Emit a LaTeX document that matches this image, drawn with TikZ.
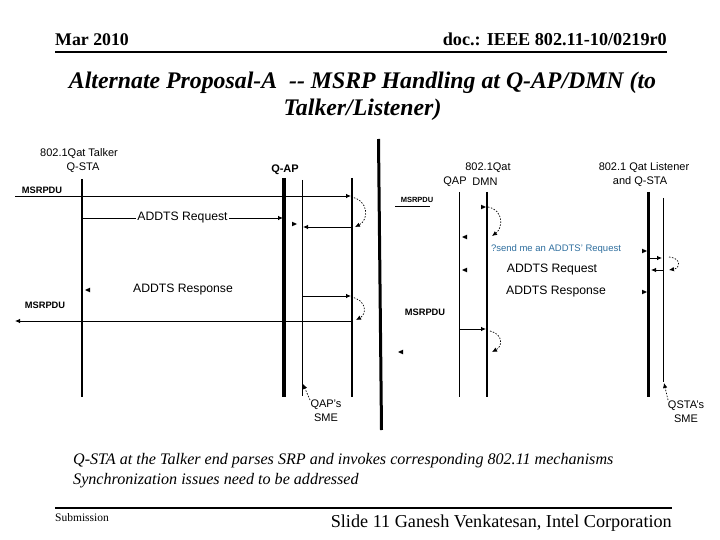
\documentclass[tikz,border=0pt]{standalone}
\usepackage{fontspec}
\setmainfont{Liberation Serif}
\setsansfont{Liberation Sans}
\usetikzlibrary{arrows.meta}
\definecolor{sendblue}{RGB}{46,110,158}
\begin{document}
\begin{tikzpicture}[x=1pt,y=-1pt,
  lbl/.style={font=\sffamily\fontsize{11}{13}\selectfont, inner sep=0pt},
  lblb/.style={font=\sffamily\bfseries\fontsize{11}{13}\selectfont, inner sep=0pt},
  small/.style={font=\sffamily\bfseries\fontsize{9.3}{10}\selectfont, inner sep=0pt},
  msglbl/.style={font=\sffamily\fontsize{12.2}{13}\selectfont, inner sep=1pt},
  msg/.style={-{Latex[length=5pt,width=4.5pt]}, line width=0.8pt},
  curv/.style={dash pattern=on 1.5pt off 1.5pt, -{Latex[length=5pt,width=4.5pt]}, line width=0.7pt},
  life/.style={line width=#1},
  head/.pic={\fill (-5,-2.3) -- (0,0) -- (-5,2.3) -- cycle;}
]
\useasboundingbox (0,0) rectangle (720,540);

% header
\node[anchor=base west, font=\bfseries\fontsize{17.8}{20}\selectfont, inner sep=0pt] (date) at (55,46) {Mar 2010};
\node[anchor=base east, font=\bfseries\fontsize{18.2}{20}\selectfont, inner sep=0pt] (doc) at (667,46) {doc.: IEEE 802.11-10/0219r0};
\draw[line width=2pt] (55,52) -- (667,52);

% title
\node[font=\bfseries\itshape\fontsize{23.8}{28}\selectfont, inner sep=0pt] (title1) at (362.5,83) {Alternate Proposal-A\ \ -{}- MSRP Handling at Q-AP/DMN (to};
\node[font=\bfseries\itshape\fontsize{23.8}{28}\selectfont, inner sep=0pt] (title2) at (362.5,110) {Talker/Listener)};

% lifeline labels
\node[lbl] (talk1) at (79,154) {802.1Qat Talker};
\node[lbl] (talk2) at (83,168) {Q-STA};
\node[lblb] (qap) at (285,170) {Q-AP};
\node[lbl] (dmn1) at (488,168) {802.1Qat};
\node[lbl] (dmn2) at (455,182) {QAP};
\node[lbl] (dmn3) at (485,182) {DMN};
\node[lbl] (lis1) at (644,168) {802.1 Qat Listener};
\node[lbl] (lis2) at (640,182) {and Q-STA};

% lifelines
\draw[life=1.6pt] (82,179) -- (82,397);
\draw[life=3.5pt] (284,178) -- (284,397);
\draw[life=0.9pt] (302,180) -- (302,396);
\draw[life=2pt] (352,178) -- (352,397);
\draw[life=3pt] (378.5,139) -- (381.5,430);
\draw[life=1pt] (459,192) -- (459,397);
\draw[life=2.4pt] (487,192) -- (487,397);
\draw[life=3pt] (648,192) -- (648,397);
\draw[life=0.9pt] (663,198) -- (663,382);

% left side messages
\node[small] (m1) at (42,190) {MSRPDU};
\draw[msg] (15,196) -- (351,196);
\draw[curv] (351,197) .. controls (369,200) and (369,220) .. (355,227);
\draw[msg] (351,227) -- (303,227);
\pic at (297,224) {head};
\draw[msg] (82,218) -- node[msglbl, fill=white] (req) {ADDTS Request} (283,218);
\node[msglbl] (resp) at (183,290) {ADDTS Response};
\pic[rotate=180] at (85,290) {head};
\draw[msg] (302,296) -- (351,296);
\draw[curv] (351,297) .. controls (367,300) and (367,314) .. (356,320);
\node[small] (m2) at (45,305) {MSRPDU};
\draw[msg] (352,321) -- (15,321);
\node[lbl] (qsme1) at (326,405) {QAP's};
\node[lbl] (qsme2) at (326,418) {SME};
\draw[curv] (310,400) -- (303,384);

% right side messages
\node[small, font=\sffamily\bfseries\fontsize{7.5}{8}\selectfont] (m3) at (417,200) {MSRPDU};
\draw[line width=0.8pt] (395,206) -- (430,206);
\pic at (486,207) {head};
\draw[curv] (488,207) .. controls (504,210) and (503,228) .. (492,236);
\pic[rotate=180] at (462,237) {head};
\node[font=\sffamily\fontsize{9.5}{11}\selectfont, text=sendblue, inner sep=0pt] (send) at (556,249) {?send me an ADDTS' Request};
\pic at (647,251) {head};
\draw[msg] (648,258) -- (662,258);
\draw[curv] (669,257) .. controls (681,258) and (681,268) .. (669,270);
\draw[msg] (663,270) -- (651,270);
\node[msglbl] (req2) at (552,270) {ADDTS Request};
\pic[rotate=180] at (462,270) {head};
\node[msglbl] (resp2) at (556,292) {ADDTS Response};
\pic at (647,292) {head};
\node[small] (m4) at (425,312) {MSRPDU};
\draw[msg] (459,329) -- (486,329);
\draw[curv] (490,331) .. controls (503,334) and (503,346) .. (492,352);
\pic[rotate=180] at (398,352) {head};
\node[lbl] (ssme1) at (686,406) {QSTA's};
\node[lbl] (ssme2) at (686,419) {SME};
\draw[curv] (668,400) -- (664,383);

% bottom text
\node[anchor=base west, font=\itshape\fontsize{16.1}{18}\selectfont, inner sep=0pt] (b1) at (73,464) {Q-STA at the Talker end parses SRP and invokes corresponding 802.11 mechanisms};
\node[anchor=base west, font=\itshape\fontsize{16.1}{18}\selectfont, inner sep=0pt] (b2) at (73,484) {Synchronization issues need to be addressed};

% footer
\draw[line width=2pt] (55,508) -- (672,508);
\node[anchor=base west, font=\fontsize{11.5}{12}\selectfont, inner sep=0pt] (sub) at (55,521) {Submission};
\node[anchor=base east, font=\fontsize{18.2}{20}\selectfont, inner sep=0pt] (slide) at (672,527) {Slide 11 Ganesh Venkatesan, Intel Corporation};
\end{tikzpicture}
\end{document}
